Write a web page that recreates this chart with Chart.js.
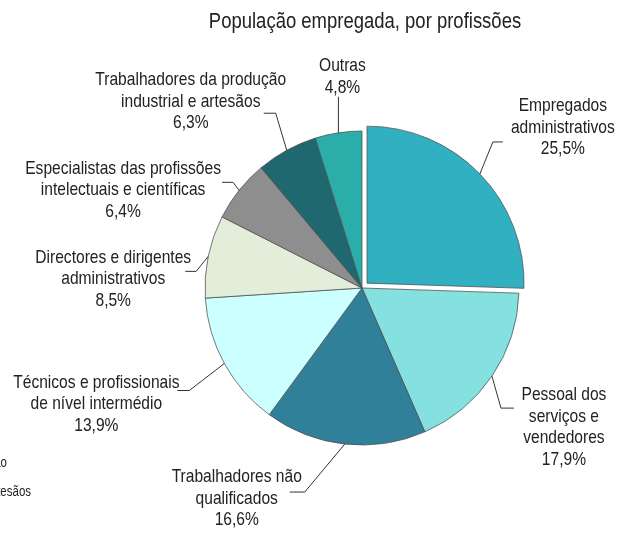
<!DOCTYPE html>
<html>
<head>
<meta charset="utf-8">
<script src="https://cdn.jsdelivr.net/npm/chart.js@4.4.0/dist/chart.umd.min.js"></script>
<style>
  html, body { margin: 0; padding: 0; background: #fff; }
</style>
</head>
<body>
<canvas id="profChart" width="626" height="533"></canvas>
<script>
// categories (wrapped as in the original labels) and shares in %
const professions = [
    ['Empregados', 'administrativos'],
    ['Pessoal dos', 'serviços e', 'vendedores'],
    ['Trabalhadores não', 'qualificados'],
    ['Técnicos e profissionais', 'de nível intermédio'],
    ['Directores e dirigentes', 'administrativos'],
    ['Especialistas das profissões', 'intelectuais e científicas'],
    ['Trabalhadores da produção', 'industrial e artesãos'],
    ['Outras']
];
const shares = [25.5, 17.9, 16.6, 13.9, 8.5, 6.4, 6.3, 4.8];
const sliceColors = ['#31b0c1', '#84e1df', '#31809a', '#ccffff', '#e2eed9', '#8e8e8e', '#1f6870', '#2baeaa'];
const explodePx = [7, 0, 0, 0, 0, 0, 0, 0];
const chartTitle = 'População empregada, por profissões';
// tail of a legend cut off at the left edge
const legendTail = ['Trabalhadores da produção', 'industrial e artesãos'];

// no narrow font installed, so Liberation Sans is squeezed horizontally
const FONT = '"Liberation Sans", Arial, sans-serif';
const NARROW = 0.82;

/**
 * Leader line and label placement, relative to the point on the slice edge at its mid-angle.
 */
const leaderLayout = [
    {ex: 13, ey: -32, run: 10, tx: 83, ty: -68},
    {ex: 9, ey: 32, run: 13, tx: 72, ty: 19},
    {ex: -40, ey: 48, run: -15, tx: -108, ty: 33},
    {ex: -35, ey: 27, run: -12, tx: -128, ty: 19},
    {ex: -12, ey: 15, run: -11, tx: -95, ty: 1},
    {ex: -6, ey: -8, run: -11, tx: -116, ty: -22},
    {ex: -11, ey: -37, run: -12, tx: -96, ty: -70},
    {ex: 0, ey: -36, run: 0, tx: 4, ty: -67}
];

function pct(v) {
    return v.toFixed(1).replace('.', ',') + '%';
}

function narrowText(ctx, text, x, y, squeeze) {
    ctx.save();
    ctx.translate(x, y);
    ctx.scale(squeeze, 1);
    ctx.fillText(text, 0, 0);
    ctx.restore();
}

const sliceLabels = {
    id: 'sliceLabels',
    afterDatasetsDraw(chart) {
        const ctx = chart.ctx;
        const meta = chart.getDatasetMeta(0);
        ctx.save();
        ctx.fillStyle = '#222';
        ctx.strokeStyle = '#333';
        ctx.lineWidth = 1;
        ctx.textAlign = 'center';
        ctx.textBaseline = 'middle';

        ctx.font = '22px ' + FONT;
        narrowText(ctx, chartTitle, 365, 22, 0.84);

        ctx.font = '19px ' + FONT;
        meta.data.forEach(function(arc, i) {
            const p = arc.getProps(['x', 'y', 'startAngle', 'endAngle', 'outerRadius'], true);
            const mid = (p.startAngle + p.endAngle) / 2;
            const r = p.outerRadius + explodePx[i];
            const ax = p.x + Math.cos(mid) * r;
            const ay = p.y + Math.sin(mid) * r;
            const L = leaderLayout[i];
            ctx.beginPath();
            ctx.moveTo(ax, ay);
            ctx.lineTo(ax + L.ex, ay + L.ey);
            ctx.lineTo(ax + L.ex + L.run, ay + L.ey);
            ctx.stroke();
            const lines = professions[i].concat([pct(shares[i])]);
            lines.forEach(function(t, k) {
                narrowText(ctx, t, ax + L.tx, ay + L.ty + k * 21.5, NARROW);
            });
        });

        ctx.font = '14px ' + FONT;
        ctx.textAlign = 'right';
        narrowText(ctx, legendTail[0], 7, 463, NARROW);
        narrowText(ctx, legendTail[1], 31, 492, NARROW);
        ctx.restore();
    }
};

const chart = new Chart(document.getElementById('profChart').getContext('2d'), {
    type: 'pie',
    data: {
        labels: professions,
        datasets: [{
            data: shares,
            backgroundColor: sliceColors,
            borderColor: '#4d4d4d',
            borderWidth: 0.75,
            offset: explodePx.map(function(v) { return v * 4; })
        }]
    },
    options: {
        responsive: false,
        animation: false,
        events: [],
        radius: 157,
        layout: {padding: {left: 98, right: 0, top: 43, bottom: 0}},
        plugins: {
            legend: {display: false},
            tooltip: {enabled: false},
            title: {display: false}
        }
    },
    plugins: [sliceLabels]
});
</script>
</body>
</html>
